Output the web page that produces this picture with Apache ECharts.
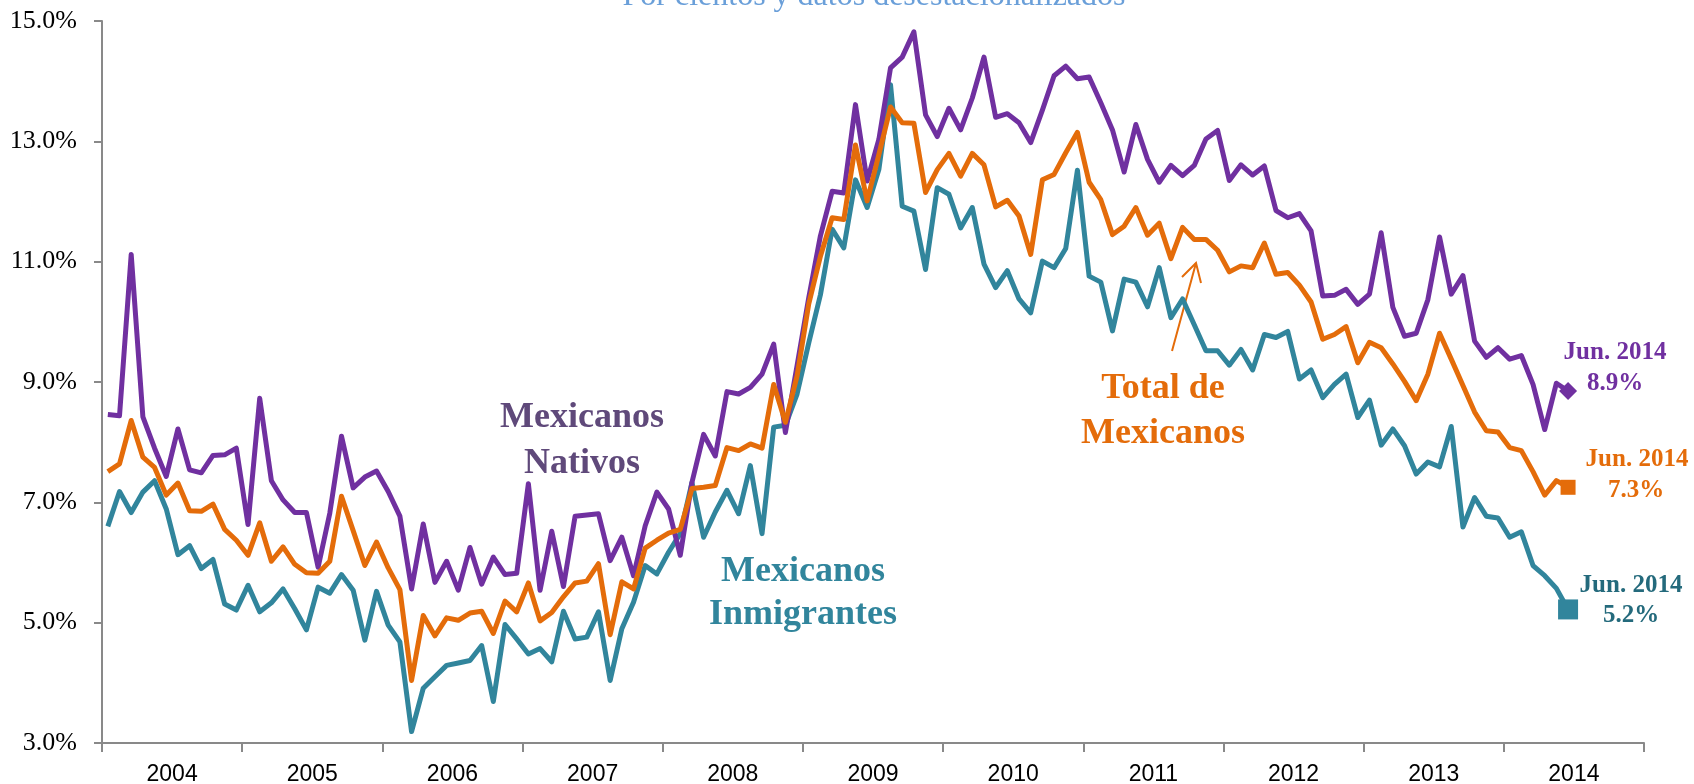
<!DOCTYPE html>
<html>
<head>
<meta charset="utf-8">
<script src="https://cdn.jsdelivr.net/npm/echarts@6/dist/echarts.min.js"></script>
<style>
html, body { margin: 0; padding: 0; background: #fff; }
#container { width: 1694px; height: 784px; }
</style>
</head>
<body>
<div id="container"></div>
<script>
var years = ['2004', '2005', '2006', '2007', '2008', '2009', '2010', '2011', '2012', '2013', '2014'];

// one category per month, Jan 2004 .. Dec 2014 (data stops at Jun 2014)
var months = [];
for (var y = 0; y < years.length; y++) {
    for (var m = 1; m <= 12; m++) {
        months.push(years[y] + '-' + (m < 10 ? '0' + m : m));
    }
}

// Mexicanos Nativos
var nativos = [
    8.46, 8.44, 11.12, 8.42, 7.90, 7.43, 8.22, 7.54, 7.49, 7.78, 7.79, 7.90,
    6.63, 8.73, 7.36, 7.04, 6.83, 6.83, 5.92, 6.82, 8.10, 7.24, 7.42, 7.52,
    7.18, 6.77, 5.56, 6.64, 5.67, 6.02, 5.54, 6.25, 5.64, 6.09, 5.80, 5.82,
    7.31, 5.54, 6.52, 5.60, 6.77, 6.79, 6.81, 6.03, 6.42, 5.78, 6.61, 7.17,
    6.89, 6.12, 7.33, 8.13, 7.77, 8.84, 8.80, 8.91, 9.13, 9.63, 8.16, 9.27,
    10.40, 11.43, 12.17, 12.14, 13.61, 12.34, 13.03, 14.22, 14.40, 14.82, 13.44, 13.08,
    13.55, 13.19, 13.72, 14.40, 13.40, 13.46, 13.31, 12.98, 13.52, 14.09, 14.25, 14.04,
    14.07, 13.64, 13.19, 12.49, 13.28, 12.70, 12.32, 12.60, 12.43, 12.60, 13.04, 13.18,
    12.35, 12.61, 12.44, 12.59, 11.85, 11.73, 11.80, 11.51, 10.43, 10.44, 10.54, 10.29,
    10.46, 11.48, 10.24, 9.76, 9.81, 10.37, 11.41, 10.46, 10.77, 9.68, 9.41, 9.57,
    9.38, 9.44, 8.96, 8.21, 8.98, 8.85
];

// Total de Mexicanos
var total = [
    7.51, 7.64, 8.36, 7.75, 7.58, 7.12, 7.32, 6.86, 6.85, 6.97, 6.55, 6.37,
    6.12, 6.66, 6.02, 6.26, 5.97, 5.83, 5.82, 6.02, 7.10, 6.53, 5.95, 6.34,
    5.91, 5.55, 4.04, 5.12, 4.78, 5.08, 5.04, 5.16, 5.19, 4.82, 5.36, 5.18,
    5.66, 5.03, 5.17, 5.43, 5.66, 5.69, 5.98, 4.80, 5.68, 5.56, 6.24, 6.37,
    6.49, 6.55, 7.23, 7.25, 7.28, 7.91, 7.86, 7.97, 7.90, 8.96, 8.33, 9.10,
    10.30, 11.09, 11.73, 11.70, 12.94, 12.01, 12.78, 13.57, 13.31, 13.30, 12.15, 12.53,
    12.80, 12.42, 12.80, 12.61, 11.91, 12.02, 11.76, 11.12, 12.36, 12.45, 12.81, 13.15,
    12.32, 12.03, 11.45, 11.59, 11.90, 11.44, 11.64, 11.05, 11.57, 11.37, 11.37, 11.19,
    10.83, 10.93, 10.90, 11.31, 10.79, 10.82, 10.61, 10.33, 9.71, 9.79, 9.92, 9.32,
    9.66, 9.57, 9.30, 9.01, 8.69, 9.13, 9.81, 9.38, 8.94, 8.50, 8.19, 8.17,
    7.91, 7.86, 7.51, 7.12, 7.36, 7.25
];

// Mexicanos Inmigrantes
var inmigrantes = [
    6.60, 7.18, 6.83, 7.17, 7.36, 6.89, 6.13, 6.28, 5.90, 6.05, 5.31, 5.21,
    5.62, 5.18, 5.33, 5.56, 5.23, 4.88, 5.59, 5.49, 5.80, 5.54, 4.71, 5.52,
    4.96, 4.68, 3.19, 3.91, 4.10, 4.29, 4.33, 4.37, 4.62, 3.69, 4.97, 4.73,
    4.48, 4.57, 4.35, 5.19, 4.73, 4.76, 5.18, 4.04, 4.90, 5.34, 5.95, 5.81,
    6.17, 6.48, 7.33, 6.42, 6.84, 7.20, 6.81, 7.61, 6.48, 8.25, 8.28, 8.80,
    9.65, 10.45, 11.54, 11.23, 12.36, 11.90, 12.53, 13.94, 11.92, 11.84, 10.87, 12.23,
    12.12, 11.56, 11.90, 10.96, 10.57, 10.85, 10.38, 10.15, 11.01, 10.90, 11.22, 12.52,
    10.76, 10.66, 9.85, 10.71, 10.66, 10.25, 10.90, 10.07, 10.38, 9.95, 9.52, 9.52,
    9.28, 9.54, 9.20, 9.79, 9.74, 9.84, 9.05, 9.20, 8.74, 8.96, 9.13, 8.41,
    8.70, 7.95, 8.22, 7.94, 7.47, 7.67, 7.59, 8.26, 6.59, 7.08, 6.77, 6.74,
    6.42, 6.51, 5.95, 5.78, 5.57, 5.22
];

var purple = '#7030A0';
var orange = '#E46C0A';
var teal = '#31859C';
var serif = '"Liberation Serif", "Times New Roman", serif';

function last(arr) {
    var i = arr.length - 1;
    return [[months[i], arr[i]]];
}

function txt(text, x, y, size, color, bold) {
    return {
        type: 'text',
        x: x,
        y: y,
        silent: true,
        style: {
            text: text,
            fill: color,
            font: (bold ? 'bold ' : '') + size + 'px ' + serif,
            align: 'center',
            verticalAlign: 'middle'
        }
    };
}

var dom = document.getElementById('container');
var myChart = echarts.init(dom);
var option = {
    animation: false,
    backgroundColor: '#fff',
    grid: {
        left: 102,
        right: 50,
        top: 21,
        bottom: 41,
        containLabel: false,
        outerBoundsMode: 'none'
    },
    xAxis: [{
        type: 'category',
        data: years,
        boundaryGap: true,
        axisLine: { lineStyle: { color: '#898989', width: 2 } },
        axisTick: { show: true, length: 9, lineStyle: { color: '#898989', width: 2 } },
        axisLabel: {
            margin: 20,
            color: '#000',
            fontSize: 23,
            fontFamily: '"Liberation Sans", Arial, sans-serif'
        },
        splitLine: { show: false }
    }, {
        type: 'category',
        data: months,
        boundaryGap: true,
        show: false
    }],
    yAxis: {
        type: 'value',
        min: 3,
        max: 15,
        interval: 2,
        axisLine: { show: true, lineStyle: { color: '#898989', width: 2 } },
        axisTick: { show: true, length: 8, lineStyle: { color: '#898989', width: 2 } },
        axisLabel: {
            margin: 25,
            color: '#000',
            fontSize: 26,
            fontFamily: serif,
            formatter: function (v) { return v.toFixed(1) + '%'; }
        },
        splitLine: { show: false }
    },
    series: [{
        name: 'Mexicanos Inmigrantes',
        type: 'line',
        xAxisIndex: 1,
        data: inmigrantes,
        symbol: 'none',
        lineStyle: { color: teal, width: 5, join: 'round' },
        z: 2
    }, {
        name: 'Mexicanos Nativos',
        type: 'line',
        xAxisIndex: 1,
        data: nativos,
        symbol: 'none',
        lineStyle: { color: purple, width: 5, join: 'round' },
        z: 3
    }, {
        name: 'Total de Mexicanos',
        type: 'line',
        xAxisIndex: 1,
        data: total,
        symbol: 'none',
        lineStyle: { color: orange, width: 5, join: 'round' },
        z: 4
    }, {
        type: 'scatter',
        xAxisIndex: 1,
        data: last(nativos),
        symbol: 'diamond',
        symbolSize: 18,
        itemStyle: { color: purple, opacity: 1 },
        z: 5
    }, {
        type: 'scatter',
        xAxisIndex: 1,
        data: last(total),
        symbol: 'rect',
        symbolSize: 15,
        itemStyle: { color: orange, opacity: 1 },
        z: 5
    }, {
        type: 'scatter',
        xAxisIndex: 1,
        data: last(inmigrantes),
        symbol: 'rect',
        symbolSize: 20,
        itemStyle: { color: teal, opacity: 1 },
        z: 5
    }],
    graphic: [
        txt('Por cientos y datos desestacionalizados', 874, -3, 32, '#6A9FD9', false),
        txt('Mexicanos', 582, 418, 36, '#5F497A', true),
        txt('Nativos', 582, 464, 36, '#5F497A', true),
        txt('Mexicanos', 803, 572, 36, teal, true),
        txt('Inmigrantes', 803, 615, 36, teal, true),
        txt('Total de', 1163, 389, 36, orange, true),
        txt('Mexicanos', 1163, 434, 36, orange, true),
        txt('Jun. 2014', 1615, 353, 25, purple, true),
        txt('8.9%', 1615, 384, 25, purple, true),
        txt('Jun. 2014', 1637, 460, 25, orange, true),
        txt('7.3%', 1636, 491, 25, orange, true),
        txt('Jun. 2014', 1631, 586, 25, '#246A7C', true),
        txt('5.2%', 1631, 616, 25, '#246A7C', true),
        {
            type: 'polyline',
            silent: true,
            shape: { points: [[1172, 351], [1196, 263]] },
            style: { stroke: orange, lineWidth: 2, fill: null }
        },
        {
            type: 'polyline',
            silent: true,
            shape: { points: [[1182, 277], [1196, 263], [1201, 283]] },
            style: { stroke: orange, lineWidth: 2, fill: null }
        }
    ]
};

if (option && typeof option === 'object') {
    myChart.setOption(option, true);
}
</script>
</body>
</html>
